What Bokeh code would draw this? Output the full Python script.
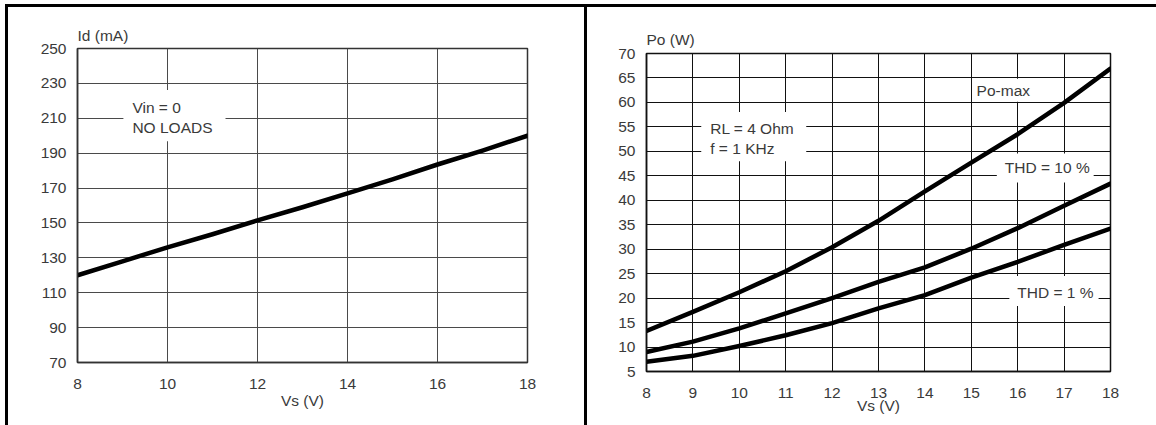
from bokeh.plotting import figure
from bokeh.models import Range1d, FixedTicker, Label, Div
from bokeh.layouts import row, column
from bokeh.embed import file_html
from bokeh.resources import INLINE

# ---- data ----
vs = [8, 9, 10, 11, 12, 13, 14, 15, 16, 17, 18]
id_ma = [120, 128, 136, 143.5, 151.5, 159, 167, 175, 183.5, 191.5, 200]

po_max = [13.3, 17.2, 21.2, 25.5, 30.4, 35.8, 41.8, 47.7, 53.5, 59.9, 66.9]
thd_10 = [9.0, 11.1, 13.8, 16.9, 20.0, 23.3, 26.3, 30.1, 34.3, 38.9, 43.4]
thd_1 = [7.0, 8.2, 10.2, 12.4, 14.9, 17.9, 20.6, 24.2, 27.4, 30.9, 34.2]

id_x_ticks = [8, 10, 12, 14, 16, 18]
id_y_ticks = [70, 90, 110, 130, 150, 170, 190, 210, 230, 250]
po_x_ticks = [8, 9, 10, 11, 12, 13, 14, 15, 16, 17, 18]
po_y_ticks = [5, 10, 15, 20, 25, 30, 35, 40, 45, 50, 55, 60, 65, 70]

FONT = "Liberation Sans"
TXT = "#3a3a3a"
FS = "15.5px"


def style(p, xt, yt, grid_color, frame_color, title, xlabel_standoff, title_standoff):
    p.xaxis.ticker = FixedTicker(ticks=xt)
    p.yaxis.ticker = FixedTicker(ticks=yt)
    p.xgrid.ticker = FixedTicker(ticks=xt)
    p.ygrid.ticker = FixedTicker(ticks=yt)
    for ax in p.axis:
        ax.major_tick_line_color = None
        ax.minor_tick_line_color = None
        ax.axis_line_color = frame_color
        ax.axis_line_width = 1.5
        ax.major_label_text_font = FONT
        ax.major_label_text_font_size = FS
        ax.major_label_text_color = TXT
        ax.axis_label_text_font = FONT
        ax.axis_label_text_font_size = FS
        ax.axis_label_text_font_style = "normal"
        ax.axis_label_text_color = TXT
    p.xaxis.major_label_standoff = 10
    p.yaxis.major_label_standoff = 5
    p.xaxis.axis_label = "Vs (V)"
    p.xaxis.axis_label_standoff = xlabel_standoff
    p.grid.grid_line_color = grid_color
    p.grid.grid_line_width = 1
    p.outline_line_color = frame_color
    p.outline_line_width = 1.5
    p.title.text = title
    p.title.align = "left"
    p.title.text_font = FONT
    p.title.text_font_size = FS
    p.title.text_font_style = "normal"
    p.title.text_color = TXT
    p.title.standoff = title_standoff
    p.background_fill_color = "white"
    p.border_fill_color = "white"


def box_label(p, x, y, text, pad):
    p.add_layout(Label(x=x, y=y, text=text, text_align="left", text_baseline="middle",
                       text_font=FONT, text_font_size=FS, text_color=TXT,
                       background_fill_color="white", padding=pad))


# ---- left chart: supply current ----
p1 = figure(width=576, height=405, output_backend="svg", toolbar_location=None,
            x_range=Range1d(8, 18), y_range=Range1d(70, 250),
            min_border_left=69, min_border_right=57, min_border_top=41, min_border_bottom=50)
style(p1, id_x_ticks, id_y_ticks, "#4a4a4a", "#333333", "Id (mA)", 0, 9)
p1.line(vs, id_ma, line_width=4.5, line_color="black", line_cap="round", line_join="round")
box_label(p1, 9.02, 211.5, "Vin = 0\nNO LOADS", (9, 13, 9, 5))

# ---- right chart: output power ----
p2 = figure(width=569, height=409, output_backend="svg", toolbar_location=None,
            x_range=Range1d(8, 18), y_range=Range1d(5, 70),
            min_border_left=59, min_border_right=46, min_border_top=41, min_border_bottom=50,
            margin=(5, 0, 0, 0))
style(p2, po_x_ticks, po_y_ticks, "#111111", "#111111", "Po (W)", -4, 11)
for ys in (po_max, thd_10, thd_1):
    p2.line(vs, ys, line_width=4.5, line_color="black", line_cap="round", line_join="round")
box_label(p2, 9.18, 53.0, "RL = 4 Ohm\nf = 1 KHz", (9, 12, 8, 4))
box_label(p2, 15.05, 62.5, "Po-max", (3, 3, 3, 3))
box_label(p2, 15.55, 46.6, "THD = 10 %", (8, 4, 6, 6))
box_label(p2, 15.82, 21.45, "THD = 1 %", (8, 5, 8, 5))


def bar(w, h):
    return Div(text="", width=w, height=h, margin=0,
               styles={"background-color": "black"})


layout = column(
    bar(1151, 3),
    row(bar(3, 418), p1, bar(3, 418), p2, margin=0, spacing=0),
    margin=(4, 0, 0, 5), spacing=0,
)

open("out.html", "w").write(file_html(layout, INLINE))
